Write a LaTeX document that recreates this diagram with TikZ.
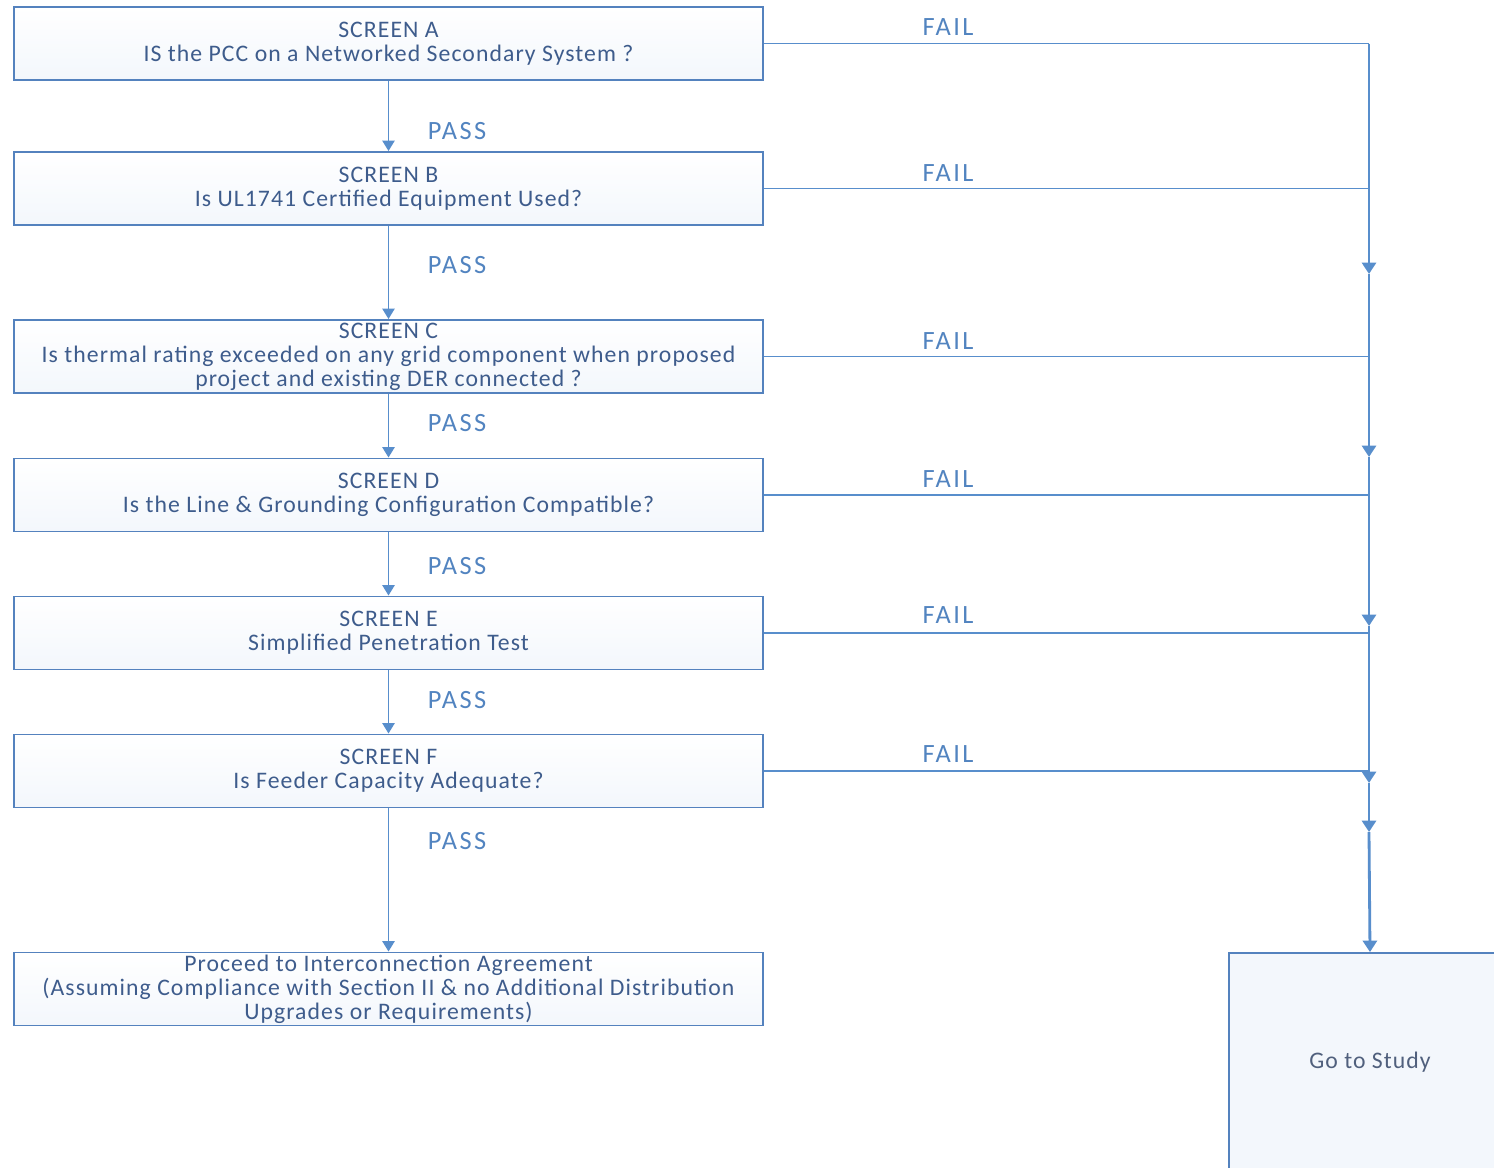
\documentclass[tikz,border=0pt]{standalone}
\usepackage{fontspec}
\setmainfont{Carlito}
\newfontfamily\boxfont[LetterSpace=4.5]{Carlito}
\newfontfamily\labfont[LetterSpace=9]{Carlito}
\usetikzlibrary{arrows.meta}
\definecolor{linecol}{RGB}{88,142,204}
\definecolor{boxborder}{RGB}{84,130,190}
\definecolor{boxfill}{RGB}{243,247,252}
\definecolor{boxtext}{RGB}{62,92,140}
\definecolor{labtext}{RGB}{82,132,192}
\definecolor{studytext}{RGB}{80,96,125}
\tikzset{
  screenbox/.style={draw=boxborder, line width=1.1pt, top color=white, bottom color=boxfill, minimum width=14.98cm, minimum height=1.46cm, align=center, text=boxtext, font=\boxfont\fontsize{13.5}{13.7}\selectfont, inner sep=0pt},
  studybox/.style={draw=boxborder, line width=1.1pt, fill=boxfill, minimum width=5.64cm, minimum height=4.36cm, align=center, text=studytext, font=\boxfont\fontsize{13.5}{13.7}\selectfont},
  lab/.style={text=labtext, font=\labfont\fontsize{15}{16}\selectfont},
  conn/.style={draw=linecol, line width=1.1pt},
  arr/.style={conn, -{Triangle[width=7pt,length=6pt]}},
  trunk/.style={draw=linecol, line width=1.6pt, -{Triangle[width=8pt,length=6.5pt]}}
}
\begin{document}
\begin{tikzpicture}[x=0.02cm,y=-0.02cm]
\useasboundingbox (0,0) rectangle (1494,1167);
\clip (0,0) rectangle (1494,1167);
\fill[white] (0,0) rectangle (1494,1167);

\node[screenbox] (A) at (388.5,43.5) {SCREEN A\\IS the PCC on a Networked Secondary System ?};
\node[screenbox] (B) at (388.5,188.5) {SCREEN B\\Is UL1741 Certified Equipment Used?};
\node[screenbox] (C) at (388.5,356.5) {SCREEN C\\Is thermal rating exceeded on any grid component when proposed\\project and existing DER connected ?};
\node[screenbox] (D) at (388.5,495) {SCREEN D\\Is the Line \& Grounding Configuration Compatible?};
\node[screenbox] (E) at (388.5,633) {SCREEN E\\Simplified Penetration Test};
\node[screenbox] (F) at (388.5,771) {SCREEN F\\Is Feeder Capacity Adequate?};
\node[screenbox] (G) at (388.5,989) {Proceed to Interconnection Agreement\\(Assuming Compliance with Section II \& no Additional Distribution\\Upgrades or Requirements)};
\node[studybox] (S) at (1370,1062) {Go to Study};

% pass arrows
\draw[arr] (A.south) -- (B.north);
\draw[arr] (B.south) -- (C.north);
\draw[arr] (C.south) -- (D.north);
\draw[arr] (D.south) -- (E.north);
\draw[arr] (E.south) -- (F.north);
\draw[arr] (F.south) -- (G.north);

\node[lab] (pA) at (457,131) {PASS};
\node[lab] (pB) at (457,265) {PASS};
\node[lab] (pC) at (457,423) {PASS};
\node[lab] (pD) at (457,566) {PASS};
\node[lab] (pE) at (457,700) {PASS};
\node[lab] (pF) at (457,841) {PASS};

% fail lines
\coordinate (cA) at (1369,43.5);
\coordinate (cB) at (1369,188.5);
\coordinate (cC) at (1369,356.5);
\coordinate (cD) at (1369,495);
\coordinate (cE) at (1369,633);
\coordinate (cF) at (1369,771);
\draw[conn] (A.east) -- (cA);
\draw[conn] (B.east) -- (cB);
\draw[conn] (C.east) -- (cC);
\draw[conn] (D.east) -- (cD);
\draw[conn] (E.east) -- (cE);
\draw[conn] (F.east) -- (cF);

\coordinate (t1) at (1369,274);
\coordinate (t2) at (1369,457);
\coordinate (t3) at (1369,626);
\coordinate (t4) at (1369,783);
\coordinate (t5) at (1369,832);
\draw[trunk] (cA) -- (t1);
\draw[trunk] (t1) -- (t2);
\draw[trunk] (t2) -- (t3);
\draw[trunk] (t3) -- (t4);
\draw[trunk] (t4) -- (t5);
\draw[trunk] (t5) -- (S.north);

\node[lab] (fA) at (948,27) {FAIL};
\node[lab] (fB) at (948,173) {FAIL};
\node[lab] (fC) at (948,341) {FAIL};
\node[lab] (fD) at (948,479) {FAIL};
\node[lab] (fE) at (948,615) {FAIL};
\node[lab] (fF) at (948,754) {FAIL};
\end{tikzpicture}
\end{document}
